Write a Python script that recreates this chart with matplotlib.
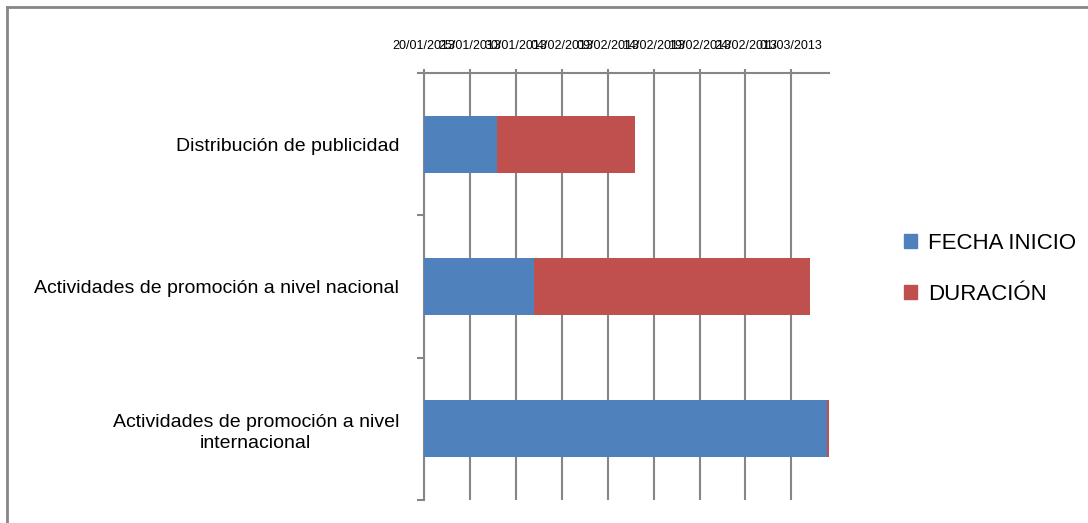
import matplotlib
matplotlib.use("Agg")
import matplotlib.pyplot as plt
from matplotlib.lines import Line2D
from matplotlib.patches import Patch

plt.rcParams["font.family"] = ["Liberation Sans", "DejaVu Sans"]

# tasks (top to bottom), start offset in days from 20/01/2013 and duration in days
tareas = ["Distribución de publicidad",
          "Actividades de promoción a nivel nacional",
          "Actividades de promoción a nivel\ninternacional"]
inicio = [8, 12, 43.9]
duracion = [15, 30, 0.25]
tick_dias = [0, 5, 10, 15, 20, 25, 30, 35, 40]
tick_fechas = ["20/01/2013", "25/01/2013", "30/01/2013", "04/02/2013", "09/02/2013",
               "14/02/2013", "19/02/2013", "24/02/2013", "01/03/2013"]

BLUE, RED, GRID = "#4F81BD", "#C0504D", "#868686"

fig = plt.figure(figsize=(10.88, 5.23), dpi=100)
ax = fig.add_axes([424/1088, 1-500/523, (829-424)/1088, 427/523])

pos = list(range(len(tareas)))
ax.barh(pos, inicio, height=0.4, color=BLUE, zorder=3)
ax.barh(pos, duracion, left=inicio, height=0.4, color=RED, zorder=3)

ax.set_xlim(0, 44.1)
ax.set_ylim(2.5, -0.5)
ax.xaxis.tick_top()
ax.set_xticks(tick_dias)
ax.set_xticklabels(tick_fechas, fontsize=9)
ax.tick_params(axis="x", length=3, width=1.5, color=GRID, pad=12)
ax.grid(axis="x", color=GRID, lw=1.5, zorder=0)

ax.set_yticks(pos)
ax.set_yticklabels(tareas, fontsize=14, multialignment="center", linespacing=1.3)
ax.tick_params(axis="y", length=0, pad=18)
ax.set_yticks([0.5, 1.5, 2.5], minor=True)
ax.tick_params(axis="y", which="minor", length=5, width=1.5, color=GRID)

for s in ["right", "bottom"]:
    ax.spines[s].set_visible(False)
for s in ["left", "top"]:
    ax.spines[s].set_color(GRID)
    ax.spines[s].set_linewidth(1.5)
ax.spines["top"].set_bounds(-0.6, 44.1)

fig.legend(handles=[Patch(color=BLUE, label="FECHA INICIO"),
                    Patch(color=RED, label="DURACIÓN")],
           loc="center left", bbox_to_anchor=(884/1088, 1-269/523), frameon=False,
           fontsize=16, handlelength=0.6, handleheight=0.6, handletextpad=0.5,
           labelspacing=1.35)

# chart frame (only left/top edges visible)
fig.add_artist(Line2D([7/1088, 7/1088], [0, 1-7/523], color=GRID, lw=2))
fig.add_artist(Line2D([7/1088, 1], [1-7/523, 1-7/523], color=GRID, lw=2))

fig.savefig("out.png", dpi=100)
